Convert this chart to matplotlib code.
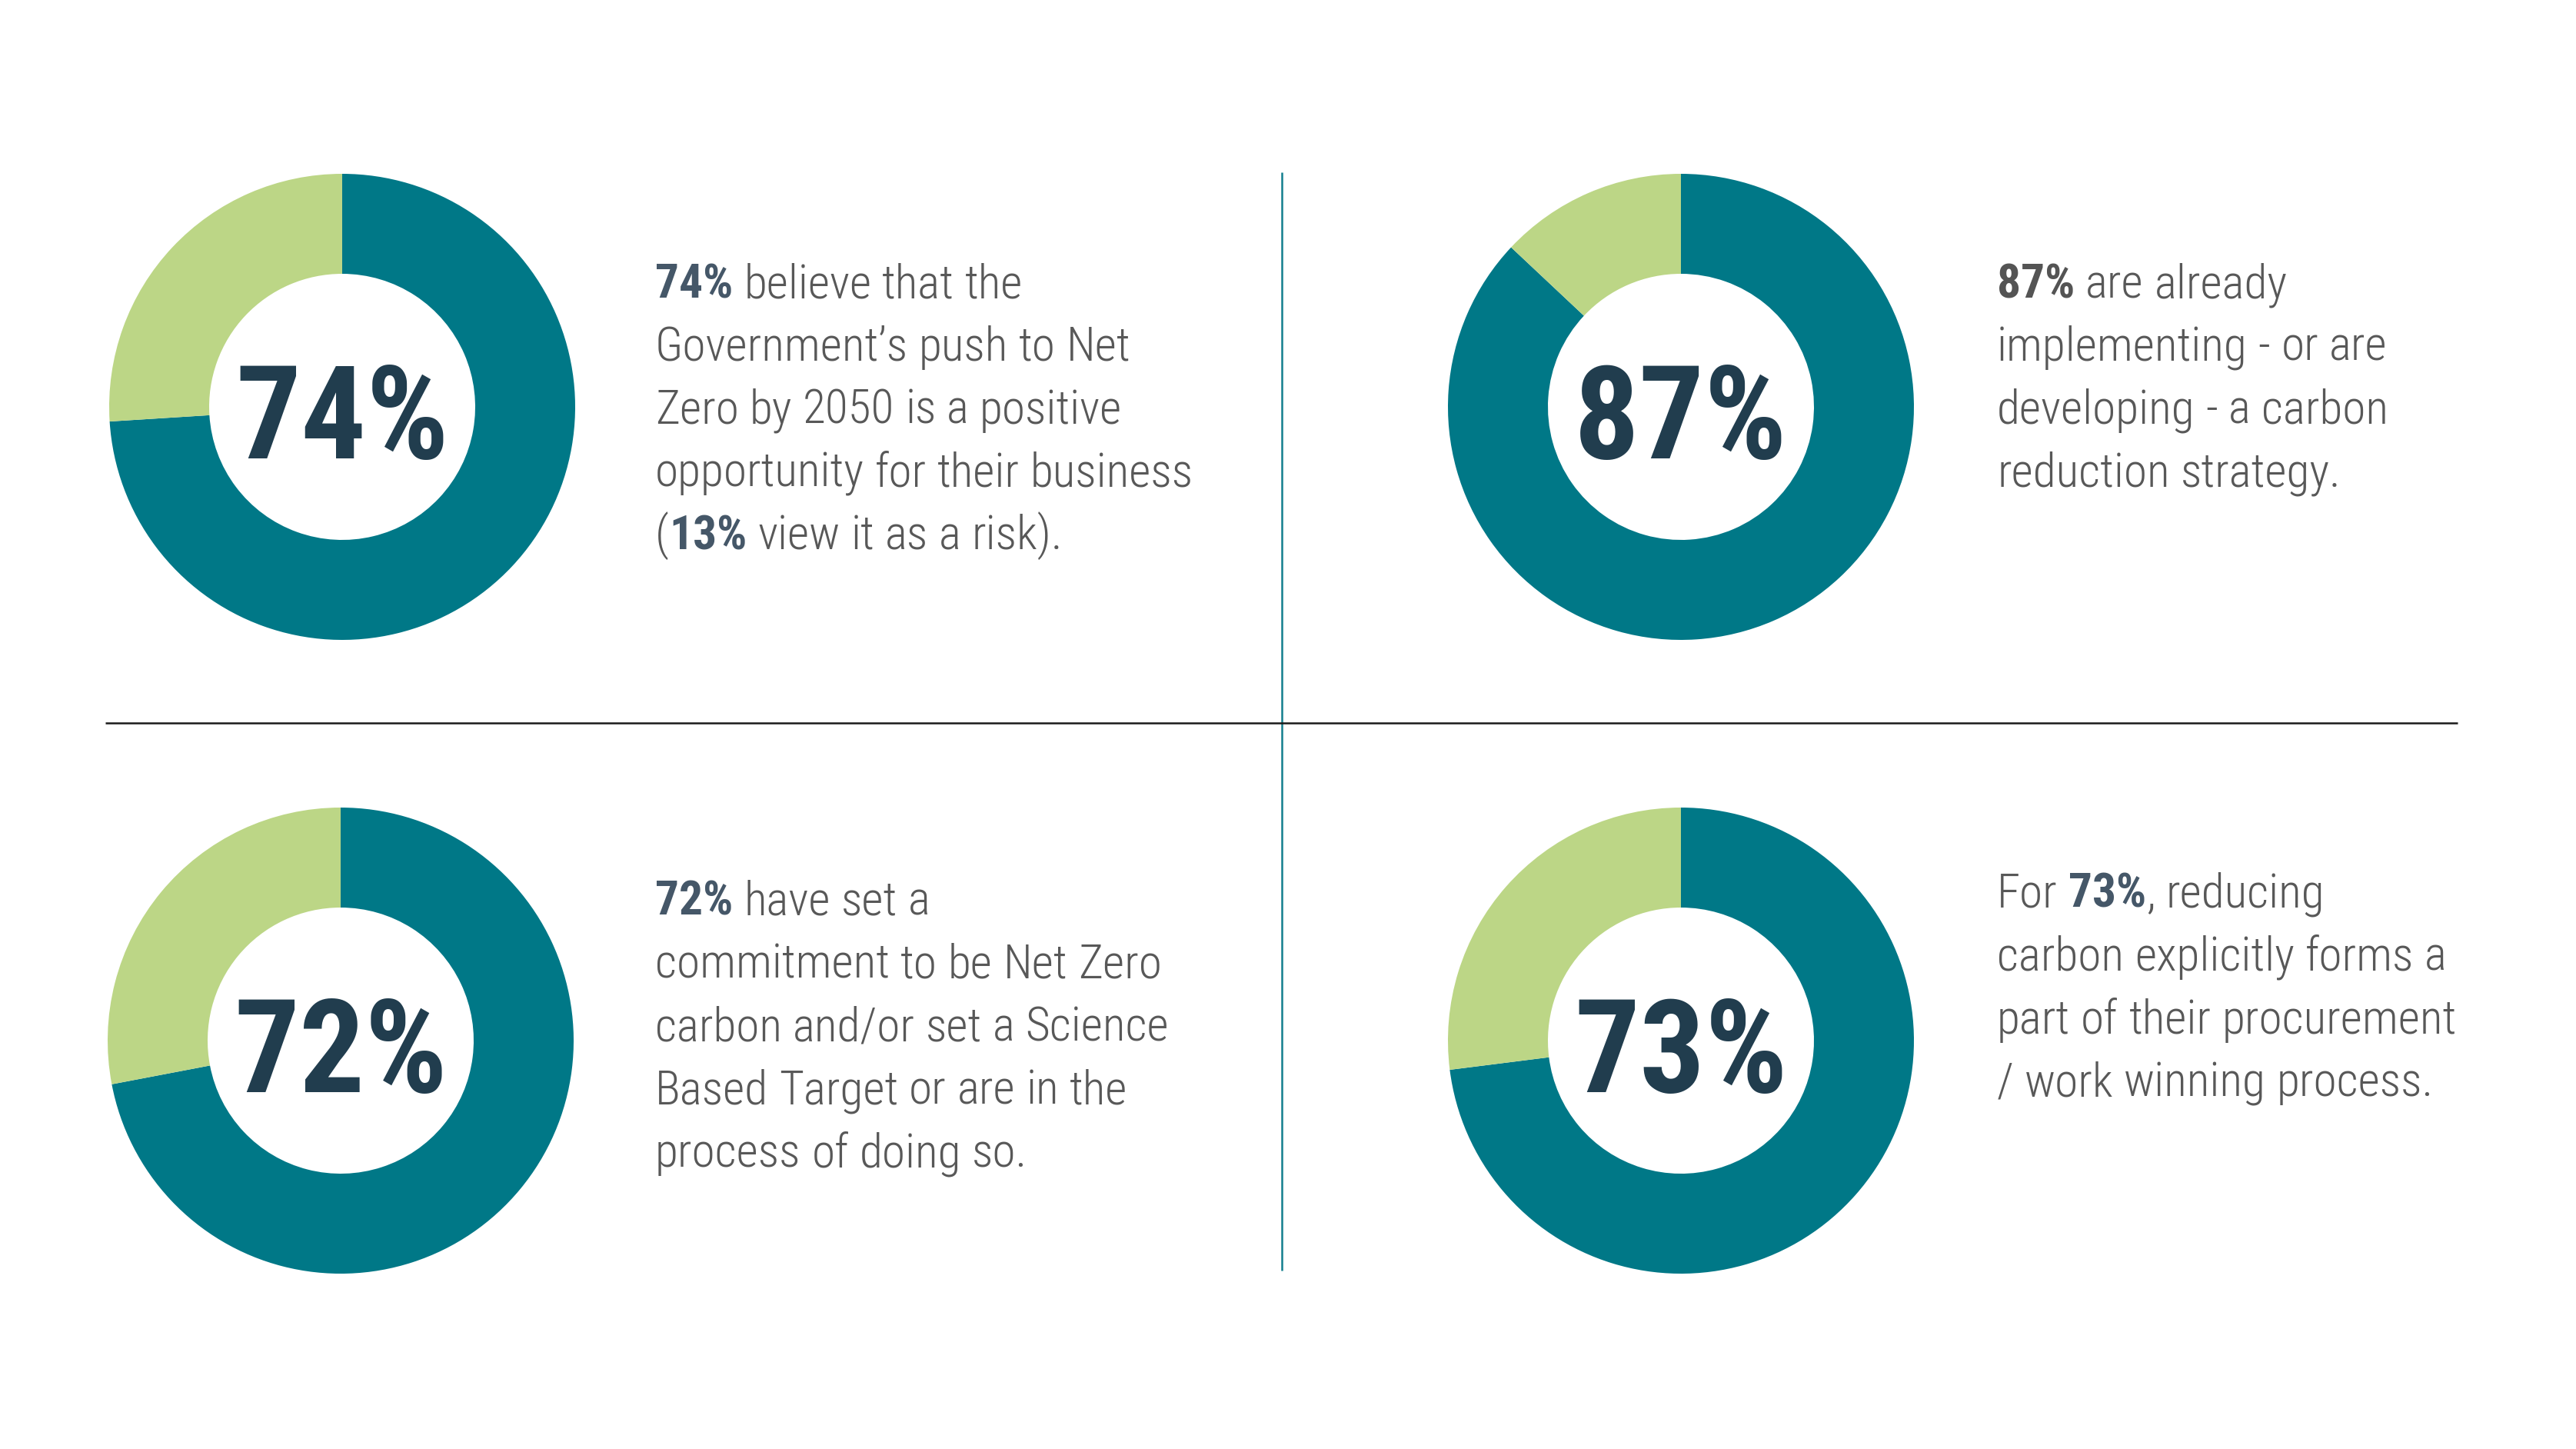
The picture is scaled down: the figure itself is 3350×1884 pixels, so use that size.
import matplotlib
matplotlib.use("Agg")
import matplotlib.pyplot as plt
from matplotlib import font_manager
from matplotlib.font_manager import FontProperties

# ---- data -------------------------------------------------------------
values = [74, 87, 72, 73]
big_labels = ["74%", "87%", "72%", "73%"]

# description lines; **...** marks the bold run
desc_1 = ["**74%** believe that the",
          "Government\u2019s push to Net",
          "Zero by 2050 is a positive",
          "opportunity for their business",
          "(**13%** view it as a risk)."]
desc_2 = ["**87%** are already",
          "implementing - or are",
          "developing - a carbon",
          "reduction strategy."]
desc_3 = ["**72%** have set a",
          "commitment to be Net Zero",
          "carbon and/or set a Science",
          "Based Target or are in the",
          "process of doing so."]
desc_4 = ["For **73%**, reducing",
          "carbon explicitly forms a",
          "part of their procurement",
          "/ work winning process."]
descriptions = [desc_1, desc_2, desc_3, desc_4]

# ---- style ------------------------------------------------------------
W, H = 3350, 1884
DPI = 100
TEAL = "#007887"
GREEN = "#bcd686"
NAVY = "#213d4e"
BODY = "#585858"
bold_colors = ["#455768", "#545454", "#455768", "#455768"]

# panel geometry in pixel units (y measured from top)
centers = [(445, 529), (2186, 529), (443, 1353), (2186, 1353)]
R_OUT, R_IN = 303, 173
text_x = [852, 2597, 852, 2597]
first_baseline = [387, 387, 1190, 1180]
LINE_STEP = 81.8
BIG_OFFSET = 67

fig = plt.figure(figsize=(W / DPI, H / DPI), dpi=DPI)
fig.patch.set_facecolor("white")
ax = fig.add_axes([0, 0, 1, 1])
ax.set_xlim(0, W)
ax.set_ylim(0, H)
renderer = fig.canvas.get_renderer()


def measure(s, prop):
    t = ax.text(0, 0, s, fontproperties=prop)
    bb = t.get_window_extent(renderer)
    t.remove()
    return bb.width


# ---- pick the narrowest sans family that has light/regular + bold -----
SANS_FAMILIES = {"Liberation Sans Narrow", "Liberation Sans", "Roboto",
                 "Roboto Condensed", "Open Sans", "Open Sans Condensed",
                 "Noto Sans", "Noto Sans Display", "DejaVu Sans", "Lato",
                 "Inter", "Arimo"}
SAMPLE = "opportunity for their business"
entries = [f for f in font_manager.fontManager.ttflist
           if f.name in SANS_FAMILIES and f.style == "normal"]


def wnum(w):
    if isinstance(w, int):
        return w
    return font_manager.weight_dict.get(w, 400)


best = None
for e in entries:
    if not 350 <= wnum(e.weight) <= 450:
        continue
    same = [b for b in entries if b.name == e.name and b.stretch == e.stretch]
    bolds = [b for b in same if 600 <= wnum(b.weight) <= 800]
    if not bolds:
        continue
    try:
        w = measure(SAMPLE, FontProperties(fname=e.fname, size=48))
    except Exception:
        continue
    if best is None or w < best[0]:
        bold = min(bolds, key=lambda b: abs(wnum(b.weight) - 700))
        lights = [b for b in same if 280 <= wnum(b.weight) <= 400]
        body = min(lights, key=lambda b: abs(wnum(b.weight) - 300))
        best = (w, body.fname, bold.fname)

if best is None:
    REG = FontProperties(family="DejaVu Sans")
    BOLD = FontProperties(family="DejaVu Sans", weight="bold")
else:
    REG = FontProperties(fname=best[1])
    BOLD = FontProperties(fname=best[2])

# body text sized so the longest line spans ~700 px; cap at 50 pt
probe = REG.copy()
probe.set_size(48)
BODY_SIZE = min(50.0, 48.0 * 700.0 / measure(SAMPLE, probe))
big_probe = BOLD.copy()
big_probe.set_size(124)
BIG_SIZE = min(126.0, 124.0 * 278.0 / measure("74%", big_probe))


def fy(y):
    return H - y


for (cx, cy), v, lab in zip(centers, values, big_labels):
    ax.pie([v, 100 - v], colors=[TEAL, GREEN], startangle=90,
           counterclock=False, radius=R_OUT, center=(cx, fy(cy)),
           wedgeprops=dict(width=R_OUT - R_IN, linewidth=0))
    p = BOLD.copy()
    p.set_size(BIG_SIZE)
    ax.text(cx, fy(cy + BIG_OFFSET), lab, ha="center", va="baseline",
            fontproperties=p, color=NAVY)

ax.set_xlim(0, W)
ax.set_ylim(0, H)
ax.set_aspect("equal")
ax.axis("off")

# divider lines
ax.plot([1667, 1667], [fy(224), fy(1652)], color="#137f8e", lw=1.8,
        solid_capstyle="butt")
ax.plot([137, 3196], [fy(940), fy(940)], color="#1a1a1a", lw=1.8,
        solid_capstyle="butt")

reg_p = REG.copy()
reg_p.set_size(BODY_SIZE)
bold_p = BOLD.copy()
bold_p.set_size(BODY_SIZE)
space_w = measure("x x", reg_p) - measure("xx", reg_p)


def parse(line):
    parts = line.split("**")
    return [(p, i % 2 == 1) for i, p in enumerate(parts) if p]


def draw_line(x, y, line, bold_color):
    for seg, is_bold in parse(line):
        words = seg.split(" ")
        for k, word in enumerate(words):
            if k > 0:
                x += space_w
            if not word:
                continue
            t = ax.text(x, fy(y), word, ha="left", va="baseline",
                        fontproperties=bold_p if is_bold else reg_p,
                        color=bold_color if is_bold else BODY)
            x += t.get_window_extent(renderer).width


for i, lines in enumerate(descriptions):
    for j, line in enumerate(lines):
        draw_line(text_x[i], first_baseline[i] + j * LINE_STEP, line,
                  bold_colors[i])

fig.savefig("out.png", dpi=DPI, facecolor="white")
